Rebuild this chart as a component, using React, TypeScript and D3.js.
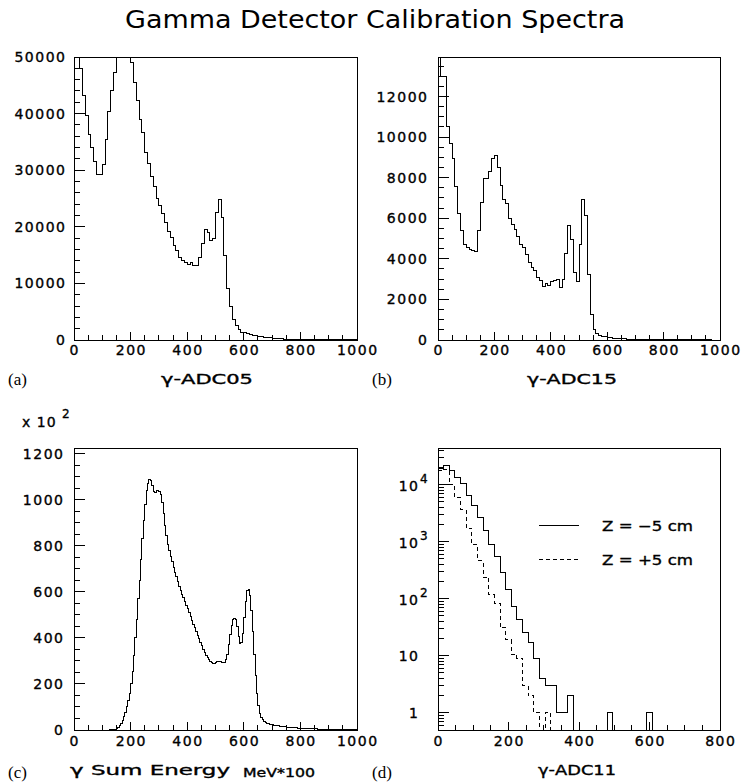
import React from 'react';
import * as d3 from 'd3';

// ---------------- DATA ----------------
const TITLE = 'Gamma Detector Calibration Spectra';

// (a) gamma-ADC05, 100 bins over 0..1000
const adc05Counts = [
  55000, 54000, 48000, 43200, 39600, 36300, 34000, 31600, 29200, 29200,
  31000, 35500, 40400, 44100, 47200, 51000, 53000, 54000, 53000, 51000,
  49000, 45500, 42300, 38900, 36700, 33100, 31100, 28900, 27200, 25000,
  23700, 22400, 20800, 19200, 18100, 16700, 15800, 14500, 14000, 13700,
  13400, 13700, 13100, 13100, 14600, 17100, 19500, 19000, 17500, 18000,
  22500, 24900, 21700, 14900, 9100, 5900, 3700, 2500, 1800, 1400,
  1250, 1100, 950, 850, 750, 650, 570, 500, 430, 370,
  320, 270, 230, 190, 160, 130, 110, 90, 75, 60,
  50, 42, 35, 29, 24, 20, 17, 14, 12, 10,
  8, 7, 6, 5, 4, 3, 3, 2, 2, 1,
];

// (b) gamma-ADC15, 100 bins over 0..1000
const adc15Counts = [
  15500, 13000, 13000, 10500, 9700, 8950, 7550, 6250, 5400, 4700,
  4550, 4480, 4420, 4380, 5400, 6800, 7950, 7950, 8300, 8950,
  9100, 8500, 7600, 6950, 6750, 6000, 5700, 5430, 5100, 4690,
  4570, 4190, 3830, 3570, 3450, 3090, 2930, 2660, 2800, 2700,
  2890, 2930, 2960, 2600, 3000, 4270, 5620, 4930, 3340, 2880,
  4720, 6940, 6160, 3240, 1280, 530, 330, 230, 180, 150,
  125, 105, 90, 78, 68, 60, 52, 45, 40, 35,
  30, 26, 23, 20, 17, 15, 13, 11, 10, 9,
  8, 7, 6, 5, 4, 4, 3, 3, 2, 2,
  2, 1, 1, 1, 1, 1, 1, 0, 0, 0,
];

// (c) gamma sum energy (x 10^2 counts), 200 bins over 0..1000
const sumEnergyCounts = [
  0, 0, 0, 0, 0, 0, 0, 0, 0, 0,
  0, 0, 0, 0, 0, 0, 0, 0, 0, 0,
  0, 0, 0, 0, 0, 0.2, 0.4, 0.7, 1.2, 2.5,
  5, 10, 18, 28, 42, 58, 78, 100, 128, 160,
  200, 255, 325, 400, 480, 570, 650, 740, 830, 910,
  980, 1040, 1070, 1090, 1085, 1060, 1035, 1030, 1040, 1042,
  1035, 1025, 990, 940, 890, 845, 805, 780, 755, 730,
  705, 685, 665, 645, 625, 605, 590, 575, 558, 542,
  527, 510, 493, 477, 460, 444, 428, 412, 396, 380,
  365, 350, 336, 324, 313, 305, 298, 294, 291, 290,
  293, 297, 299, 298, 295, 293, 295, 305, 330, 370,
  415, 455, 480, 485, 478, 450, 405, 375, 378, 420,
  490, 560, 605, 612, 585, 520, 430, 330, 235, 160,
  105, 72, 55, 44, 37, 33, 30, 28, 26, 24,
  22, 21, 20, 19, 18, 17, 16, 15, 14, 13.5,
  13, 12, 11.5, 11, 10.5, 10, 9.5, 9, 8.5, 8,
  7.5, 7.2, 6.9, 6.6, 6.3, 6, 5.7, 5.4, 5.1, 4.8,
  4.6, 4.4, 4.2, 4, 3.8, 3.6, 3.4, 3.2, 3.1, 3,
  2.9, 2.8, 2.6, 2.5, 2.4, 2.2, 2.1, 2, 1.9, 1.8,
  1.7, 1.6, 1.5, 1.4, 1.3, 1.2, 1.1, 1, 1, 0.9,
];

// (d) gamma-ADC11, 50 bins over 0..800 (log scale)
const adc11ZMinus5 = [
  19500, 21900, 17800, 13500, 10500, 6400, 4250, 2650, 1550, 880,
  560, 285, 148, 73, 43, 26, 17, 9, 4, 3,
  3, 1, 1, 2, 0, 0, 0, 0, 0, 0,
  1, 0, 0, 0, 0, 0, 0, 1, 0, 0,
  0, 0, 0, 0, 0, 0, 0, 0, 0, 0,
];
const adc11ZPlus5 = [
  17500, 18500, 10000, 5900, 3650, 1740, 890, 465, 240, 117,
  83, 31, 19, 10.7, 9, 3, 2, 1, 0, 1,
  0, 0, 0, 0, 0, 0, 0, 0, 0, 0,
  0, 0, 0, 0, 0, 0, 0, 0, 0, 0,
  0, 0, 0, 0, 0, 0, 0, 0, 0, 0,
];

const xLabels1000 = [0, 200, 400, 600, 800, 1000];
const xLabels800 = [0, 200, 400, 600, 800];
const yLabelsA = [0, 10000, 20000, 30000, 40000, 50000];
const yLabelsB = [0, 2000, 4000, 6000, 8000, 10000, 12000];
const yLabelsC = [0, 200, 400, 600, 800, 1000, 1200];
const yDecadesD = [0, 1, 2, 3, 4];
const legendLabels = ['Z = \u22125 cm', 'Z = +5 cm'];

// ---------------- STYLE ----------------
const SANS = '"DejaVu Sans", "Liberation Sans", sans-serif';
const SERIF = '"Liberation Serif", "Times New Roman", serif';
const LS = 1.5; // letter spacing for tick labels
const BOLDEN = 0.35;

type Frame = { l: number; t: number; r: number; b: number };

function histPoints(counts: number[], xMax: number): [number, number][] {
  const w = xMax / counts.length;
  const pts: [number, number][] = [[0, 0]];
  counts.forEach((c, i) => {
    pts.push([i * w, c]);
    pts.push([(i + 1) * w, c]);
  });
  pts.push([xMax, 0]);
  return pts;
}

function XAxis({ f, x, xMax, labels, labelY }: any) {
  const minor = d3.range(0, xMax + 1e-6, 50);
  return (
    <g>
      {minor.map((v: number) => (
        <line key={v} x1={x(v)} x2={x(v)} y1={f.b} y2={f.b - (v % 200 === 0 ? 8 : 5)} stroke="#000" shapeRendering="crispEdges" />
      ))}
      {labels.map((v: number) => (
        <text key={'l' + v} x={x(v) + LS / 2} y={labelY} textAnchor="middle" fontSize={14} letterSpacing={LS}
          stroke="#000" strokeWidth={BOLDEN}>{v}</text>
      ))}
    </g>
  );
}

function LinearPanel({ f, counts, xMax, yMax, yMinor, yMajor, yLabels, xLabels, yLabelRight, xLabelY }: any) {
  const x = d3.scaleLinear().domain([0, xMax]).range([f.l, f.r]);
  const y = d3.scaleLinear().domain([0, yMax]).range([f.b, f.t]).clamp(true);
  const line = d3.line<[number, number]>().x(d => x(d[0])).y(d => y(d[1]));
  const minor = d3.range(0, yMax + 1e-6, yMinor);
  return (
    <g>
      <path d={line(histPoints(counts, xMax)) || ''} fill="none" stroke="#000" strokeWidth={1} shapeRendering="crispEdges" />
      <rect x={f.l} y={f.t} width={f.r - f.l} height={f.b - f.t} fill="none" stroke="#000" shapeRendering="crispEdges" />
      {minor.map((v: number) => {
        const major = Math.abs(v / yMajor - Math.round(v / yMajor)) < 1e-6;
        return <line key={v} x1={f.l} x2={f.l + (major ? 11 : 6)} y1={y(v)} y2={y(v)} stroke="#000" shapeRendering="crispEdges" />;
      })}
      {yLabels.map((v: number) => (
        <text key={'y' + v} x={yLabelRight + LS} y={y(v) + 5} textAnchor="end" fontSize={14} letterSpacing={LS}
          stroke="#000" strokeWidth={BOLDEN}>{v}</text>
      ))}
      <XAxis f={f} x={x} xMax={xMax} labels={xLabels} labelY={xLabelY} />
    </g>
  );
}

function LogPanel({ f }: { f: Frame }) {
  const xMax = 800;
  const yMin = 0.5, yMax = 44000;
  const x = d3.scaleLinear().domain([0, xMax]).range([f.l, f.r]);
  const y = d3.scaleLog().domain([yMin, yMax]).range([f.b, f.t]).clamp(true);
  const line = d3.line<[number, number]>().x(d => x(d[0])).y(d => y(Math.max(d[1], yMin)));
  const minorTicks: { v: number; major: boolean }[] = [];
  for (let k = -1; k <= 5; k++) {
    for (let m = 1; m <= 9; m++) {
      const v = m * Math.pow(10, k);
      if (v >= yMin && v <= yMax) minorTicks.push({ v, major: m === 1 });
    }
  }
  const lx = 418;
  return (
    <g>
      <path d={line(histPoints(adc11ZMinus5, xMax)) || ''} fill="none" stroke="#000" strokeWidth={1} shapeRendering="crispEdges" />
      <path d={line(histPoints(adc11ZPlus5, xMax)) || ''} fill="none" stroke="#000" strokeWidth={1} strokeDasharray="4,3" shapeRendering="crispEdges" />
      <rect x={f.l} y={f.t} width={f.r - f.l} height={f.b - f.t} fill="none" stroke="#000" shapeRendering="crispEdges" />
      {minorTicks.map(t => (
        <line key={t.v} x1={f.l} x2={f.l + (t.major ? 11 : 6)} y1={y(t.v)} y2={y(t.v)} stroke="#000" shapeRendering="crispEdges" />
      ))}
      {yDecadesD.map(k => {
        const ty = y(Math.pow(10, k));
        if (k === 0) return <text key={k} x={lx + LS} y={ty + 5} textAnchor="end" fontSize={14} letterSpacing={LS} stroke="#000" strokeWidth={BOLDEN}>1</text>;
        if (k === 1) return <text key={k} x={lx + LS} y={ty + 5} textAnchor="end" fontSize={14} letterSpacing={LS} stroke="#000" strokeWidth={BOLDEN}>10</text>;
        return (
          <g key={k}>
            <text x={lx + LS} y={ty + 6} textAnchor="end" fontSize={14} letterSpacing={LS} stroke="#000" strokeWidth={BOLDEN}>10</text>
            <text x={lx + 2} y={ty - 2} fontSize={12} stroke="#000" strokeWidth={BOLDEN}>{k}</text>
          </g>
        );
      })}
      <XAxis f={f} x={x} xMax={xMax} labels={xLabels800} labelY={746} />
      {/* legend */}
      <line x1={539} x2={579} y1={525} y2={525} stroke="#000" shapeRendering="crispEdges" />
      <text x={602} y={531} fontSize={14} textLength={91} lengthAdjust="spacingAndGlyphs" stroke="#000" strokeWidth={BOLDEN}>{legendLabels[0]}</text>
      <line x1={539} x2={579} y1={559} y2={559} stroke="#000" strokeDasharray="4,3" shapeRendering="crispEdges" />
      <text x={602} y={565} fontSize={14} textLength={91} lengthAdjust="spacingAndGlyphs" stroke="#000" strokeWidth={BOLDEN}>{legendLabels[1]}</text>
    </g>
  );
}

export default function App() {
  const W = 743, H = 783;
  const FA: Frame = { l: 74, t: 57, r: 357, b: 340 };
  const FB: Frame = { l: 438, t: 57, r: 720, b: 340 };
  const FC: Frame = { l: 74, t: 448, r: 357, b: 730 };
  const FD: Frame = { l: 438, t: 448, r: 720, b: 730 };
  return (
    <svg width={W} height={H} style={{ position: 'absolute', left: 0, top: 0 }} fontFamily={SANS} fill="#000">
      <rect x={0} y={0} width={W} height={H} fill="#fff" />
      <text x={375} y={28} textAnchor="middle" fontSize={24} textLength={500} lengthAdjust="spacingAndGlyphs">{TITLE}</text>

      <LinearPanel f={FA} counts={adc05Counts} xMax={1000} yMax={50000} yMinor={2000} yMajor={10000}
        yLabels={yLabelsA} xLabels={xLabels1000} yLabelRight={65} xLabelY={355} />
      <LinearPanel f={FB} counts={adc15Counts} xMax={1000} yMax={13950} yMinor={500} yMajor={2000}
        yLabels={yLabelsB} xLabels={xLabels1000} yLabelRight={427} xLabelY={355} />
      <LinearPanel f={FC} counts={sumEnergyCounts} xMax={1000} yMax={1225} yMinor={50} yMajor={200}
        yLabels={yLabelsC} xLabels={xLabels1000} yLabelRight={63} xLabelY={746} />
      <LogPanel f={FD} />

      {/* axis titles and panel tags */}
      <g stroke="#000" strokeWidth={BOLDEN}>
        <text x={207} y={384} textAnchor="middle" fontSize={14} textLength={92} lengthAdjust="spacingAndGlyphs">γ-ADC05</text>
        <text x={572} y={384} textAnchor="middle" fontSize={14} textLength={90} lengthAdjust="spacingAndGlyphs">γ-ADC15</text>
        <text x={70} y={775} fontSize={14} textLength={160} lengthAdjust="spacingAndGlyphs">γ Sum Energy</text>
        <text x={243} y={777} fontSize={12} textLength={72} lengthAdjust="spacingAndGlyphs">MeV*100</text>
        <text x={577} y={775} textAnchor="middle" fontSize={14} textLength={78} lengthAdjust="spacingAndGlyphs">γ-ADC11</text>
        <text x={22} y={427} fontSize={14} letterSpacing={1}>x 10</text>
        <text x={62} y={418} fontSize={12}>2</text>
      </g>

      <text x={8} y={385} fontFamily={SERIF} fontSize={17}>(a)</text>
      <text x={372} y={385} fontFamily={SERIF} fontSize={17}>(b)</text>
      <text x={8} y={778} fontFamily={SERIF} fontSize={17}>(c)</text>
      <text x={372} y={778} fontFamily={SERIF} fontSize={17}>(d)</text>
    </svg>
  );
}
